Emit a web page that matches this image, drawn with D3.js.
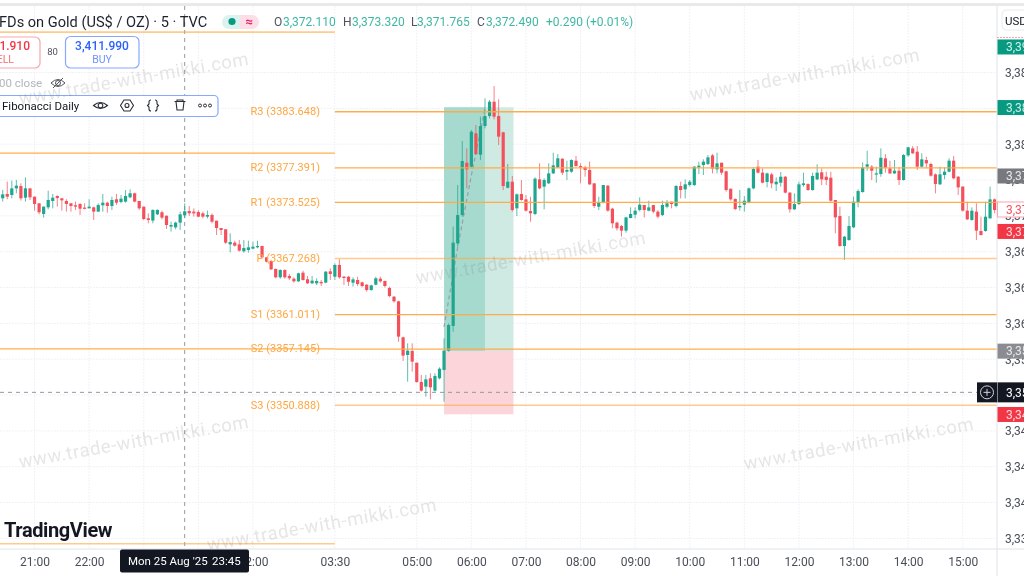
<!DOCTYPE html>
<html><head><meta charset="utf-8">
<style>html,body{margin:0;padding:0;background:#fff;overflow:hidden}svg{display:block;filter:blur(0.5px)}text{font-family:Roboto,sans-serif}</style>
<script src="https://cdn.jsdelivr.net/npm/d3@7/dist/d3.min.js"></script></head><body>
<svg id="c" width="1024" height="576"></svg>
<script>
const priceBase = 3300;
const opens = [
73.96,74.44,74.33,75.07,75.33,74.03,75.07,74.14,73.40,72.21,
72.95,73.66,74.22,73.96,73.66,73.40,73.18,73.33,72.92,72.84,
72.95,72.47,73.18,73.47,73.10,73.85,73.55,73.59,74.07,74.52,
73.66,73.03,71.73,71.47,72.17,72.40,72.02,70.80,70.72,71.24,
72.06,72.54,72.47,72.43,72.28,71.91,72.10,71.46,70.64,70.50,
68.82,69.01,68.82,68.04,68.19,68.34,68.49,68.64,67.37,66.96,
66.07,65.14,65.96,65.29,64.99,64.69,65.66,64.92,64.47,64.47,
64.62,64.55,65.81,65.21,66.52,65.21,65.21,64.54,64.84,64.58,
64.32,63.72,64.32,64.99,64.73,63.95,62.98,62.46,58.44,56.47,
56.92,55.61,53.46,52.94,53.87,52.49,53.87,54.80,56.95,59.71,
68.93,72.09,77.93,77.49,81.21,78.83,82.03,83.14,84.74,83.14,
81.32,75.14,75.81,72.84,74.44,73.84,72.54,72.21,76.07,75.26,
75.63,76.74,77.41,78.38,76.93,76.93,78.16,77.56,77.41,77.12,
75.63,73.02,73.47,75.37,72.80,71.24,70.87,70.35,71.76,72.13,
72.65,73.21,72.58,73.21,72.47,72.09,73.02,73.58,73.10,75.33,
74.96,75.44,75.44,77.41,77.67,77.79,78.75,77.19,77.93,76.97,
75.03,73.88,72.95,73.25,73.51,75.07,77.49,76.82,75.78,76.63,
75.52,75.70,76.37,74.59,72.73,73.32,75.44,75.55,74.88,76.07,
76.86,76.37,76.26,73.77,71.98,68.63,69.30,70.72,73.51,74.66,
77.49,77.49,76.63,76.67,78.42,77.30,76.74,77.04,76.00,78.75,
79.53,79.16,77.49,78.23,77.79,76.63,75.52,76.56,76.93,78.16,
76.37,75.26,72.58,71.54,72.47,70.31,70.31,71.72,73.84];
const closes = [
74.40,74.14,75.07,75.37,73.96,75.07,74.07,73.33,72.40,73.03,
73.77,74.03,73.99,73.73,73.33,73.10,73.03,72.80,72.80,73.03,
72.47,73.21,73.47,73.10,73.77,73.47,73.92,74.22,74.52,73.59,
72.84,71.65,71.54,72.66,72.66,71.80,70.98,70.98,71.24,72.17,
72.51,72.28,72.28,71.91,71.91,72.10,71.35,70.64,70.42,69.01,
69.08,68.67,68.12,68.41,68.49,68.56,68.64,67.37,66.89,66.03,
65.14,65.96,65.14,65.03,64.69,65.59,64.84,64.47,64.77,64.73,
64.47,65.77,65.51,66.52,65.14,65.06,64.65,64.91,64.39,64.17,
63.72,64.24,65.03,64.69,64.17,63.05,62.46,58.52,56.40,56.95,
55.73,53.46,52.49,53.75,52.86,54.13,54.94,56.95,59.82,69.01,
72.09,78.12,77.19,81.39,78.90,82.03,83.14,84.74,83.07,80.84,
75.33,75.81,72.65,74.40,73.77,72.58,72.28,76.15,75.07,76.00,
76.74,77.64,78.42,76.82,77.12,78.23,77.56,77.41,77.12,75.52,
73.10,73.47,75.44,72.58,71.17,70.61,70.35,71.83,72.21,72.58,
73.25,72.65,72.95,72.47,71.91,73.21,73.40,73.32,75.33,74.88,
75.52,75.81,77.49,77.60,78.05,78.53,77.27,77.86,76.82,74.88,
73.84,72.76,73.10,73.69,75.07,77.23,76.82,75.70,76.74,75.63,
75.81,76.37,74.59,72.73,73.32,75.52,75.63,74.88,76.45,76.82,
76.07,76.00,73.69,71.83,68.63,69.68,70.87,73.58,74.77,77.41,
77.75,77.04,76.74,78.49,77.38,76.74,77.04,76.00,78.79,79.65,
78.98,77.49,78.31,77.86,76.48,75.55,76.63,76.93,78.16,76.19,
75.18,72.58,71.61,72.58,70.35,69.86,71.91,73.84,72.65];
const highs = [
74.89,75.82,75.93,76.00,75.63,76.30,75.07,74.14,73.40,73.03,
74.81,74.44,74.29,73.96,73.85,73.40,73.59,73.40,73.40,73.85,
73.03,73.40,74.44,73.59,74.14,74.44,74.33,74.89,74.96,74.59,
73.66,73.03,72.28,72.73,72.73,72.58,72.02,71.35,71.35,72.47,
73.40,73.10,72.84,72.65,72.47,72.58,72.28,71.46,70.64,70.50,
70.05,69.23,69.31,69.31,69.23,69.12,69.23,68.64,67.37,66.96,
66.14,66.03,66.03,65.51,65.14,65.66,65.88,65.29,65.29,65.03,
64.84,65.85,66.14,66.70,67.15,65.29,65.29,65.14,65.21,64.65,
64.39,64.32,65.21,65.21,64.77,64.10,63.05,62.53,58.52,57.77,
57.77,55.61,54.24,54.24,54.42,54.42,55.09,58.33,60.00,70.79,
75.44,80.35,79.53,81.58,82.14,83.07,85.11,84.93,86.49,85.00,
81.39,77.79,76.45,74.51,76.00,74.33,74.14,76.30,77.86,76.19,
77.86,79.05,78.90,78.42,78.16,78.31,78.68,77.86,77.56,78.05,
75.63,74.14,75.44,75.44,72.91,71.35,70.98,71.91,72.95,72.95,
74.07,73.21,73.69,73.21,72.65,73.69,73.77,73.58,75.44,75.81,
76.07,76.00,77.56,78.05,78.31,78.79,78.90,79.05,77.93,77.04,
75.03,73.95,74.88,74.21,75.15,77.41,78.23,77.30,76.82,76.82,
76.30,76.89,76.45,74.66,74.51,75.81,76.82,75.63,76.82,77.75,
77.30,76.93,76.93,73.77,73.02,69.75,71.98,74.14,74.96,77.97,
79.27,77.67,77.49,79.53,78.90,78.16,78.23,77.41,78.90,79.72,
79.79,79.79,78.98,78.60,77.93,76.74,77.49,77.41,78.42,78.68,
76.45,75.33,73.58,72.95,73.40,71.91,73.58,75.26,73.95];
const lows = [
73.59,73.85,73.96,74.52,73.70,73.59,73.77,72.58,72.17,71.80,
72.73,72.84,73.03,72.58,72.47,72.47,72.66,72.10,72.73,72.84,
71.54,72.47,72.47,72.36,72.66,73.21,73.40,73.47,73.96,73.51,
72.66,71.54,71.17,71.17,72.10,71.61,70.54,70.24,70.50,70.42,
71.73,71.98,71.91,71.84,71.72,71.72,71.17,69.86,69.86,68.86,
67.93,68.56,68.00,67.89,67.89,68.26,68.38,67.26,66.78,65.96,
65.03,64.99,64.99,64.84,64.54,64.62,64.77,64.40,64.40,64.28,
64.17,64.47,64.84,64.84,64.99,64.28,64.17,64.10,64.17,64.02,
63.54,63.65,64.24,64.54,64.02,62.91,62.31,57.96,55.80,53.49,
54.61,53.38,52.38,51.82,51.52,52.38,53.75,51.26,56.84,59.07,
68.56,71.91,75.07,77.30,78.79,78.23,81.77,82.88,82.77,79.91,
74.88,75.07,72.47,71.98,73.69,72.47,71.35,72.09,74.96,72.73,
75.55,76.67,77.34,76.56,76.00,76.82,77.49,75.63,76.37,75.44,
72.88,72.65,73.40,72.47,70.61,70.35,69.68,70.12,71.72,71.72,
72.50,71.83,72.50,72.28,71.72,71.98,72.84,72.84,72.95,73.95,
73.95,75.26,75.33,76.67,76.56,77.67,76.74,76.74,76.56,74.70,
73.69,72.65,72.58,72.47,73.40,74.96,76.74,75.63,75.18,75.07,
74.77,75.26,74.51,72.36,72.65,73.21,75.26,74.81,74.81,76.00,
75.44,75.44,73.58,70.05,68.56,67.07,69.23,70.64,72.95,74.59,
77.04,76.00,75.70,76.37,76.82,76.67,76.67,75.44,75.93,78.60,
78.90,77.12,77.41,77.30,76.37,74.51,75.44,76.07,76.86,76.07,
74.33,72.47,71.54,71.46,69.30,69.82,70.23,71.70,72.28];

const pivotNames = ["R3","R2","R1","P","S1","S2","S3"];
const pivotPrices = [3383.648,3377.391,3373.525,3367.268,3361.011,3357.145,3350.888];
const pivotHeavy = [false,false,false,true,false,false,true];
const priorLevels = [3392.5,3379.0,3357.145,3335.4];
const priorHeavy = [true,false,false,true];
const priceTicks = [3388,3384,3380,3376,3372,3368,3364,3360,3356,3352,3348,3344,3340,3336];
const timeTickBars = [7,19,31,43,55,73,91,103,115,127,139,151,163,175,187,199,211];
const timeTickLabels = ["21:00","22:00","23:00","00:00","02:00","03:30","05:00","06:00","07:00","08:00","09:00","10:00","11:00","12:00","13:00","14:00","15:00"];
const positionBars = [97,106,112.25];
const positionPrices = {target:3384.12,entry:3356.92,stop:3349.85};
const tradePathBars = [97,100,103,106];
const tradePathPrices = [3359.6,3368.5,3376.5,3384.0];
const crosshairBar = 40, crosshairPrice = 3352.3;
const axisTags = [
 {p:3390.85,bg:"#089981",fg:"#cfeee8"},
 {p:3384.09,bg:"#089981",fg:"#cfeee8"},
 {p:3376.45,bg:"#77797f",fg:"#e8e8e8"},
 {p:3372.71,bg:"#fff",fg:"#f7525f",border:"#f7a6ad"},
 {p:3370.26,bg:"#f23645",fg:"#ffd9dc"},
 {p:3356.9,bg:"#8a8c92",fg:"#e8e8e8"},
 {p:3352.3,bg:"#131722",fg:"#fff",tall:true},
 {p:3349.83,bg:"#f23645",fg:"#ffd9dc"}];
const watermarks = [[20,105],[20,468],[208,551],[417,284],[691,101],[745,470]];
const watermarkText = "www.trade-with-mikki.com";
const ohlc = [["O","3,372.110",274,283],["H","3,373.320",343,352],["L","3,371.765",411,417],["C","3,372.490",477,486]];

const green="#1fa68f", red="#f4505c", orange="#ffa940", plotR=997, plotB=549;
const svg=d3.select("#c");
const x=d3.scaleLinear().domain([0,218]).range([2.7,994.6]);
const y=d3.scaleLinear().domain([3383.648,3350.888]).range([111.5,405]);
svg.append("rect").attr("width",1024).attr("height",576).attr("fill","#fff");

// grid
const grid=svg.append("g").attr("stroke","#f0f2f7").attr("stroke-width",1).attr("stroke-dasharray","2 1");
grid.selectAll(".h").data(priceTicks).join("line").attr("x1",0).attr("x2",plotR).attr("y1",d=>y(d)).attr("y2",d=>y(d));
grid.selectAll(".v").data(timeTickBars).join("line").attr("x1",d=>x(d)).attr("x2",d=>x(d)).attr("y1",6).attr("y2",plotB);

// position tool
const boxes=svg.append("g");
boxes.append("rect").attr("x",x(positionBars[0])).attr("width",x(positionBars[2])-x(positionBars[0])).attr("y",y(positionPrices.target)).attr("height",y(positionPrices.entry)-y(positionPrices.target)).attr("fill","#cfe9e3");
boxes.append("rect").attr("x",x(positionBars[0])).attr("width",x(positionBars[1])-x(positionBars[0])).attr("y",y(positionPrices.target)).attr("height",y(positionPrices.entry)-y(positionPrices.target)).attr("fill","#a6dace");
boxes.append("rect").attr("x",x(positionBars[0])).attr("width",x(positionBars[2])-x(positionBars[0])).attr("y",y(positionPrices.entry)).attr("height",y(positionPrices.stop)-y(positionPrices.entry)).attr("fill","#fbd5da");
boxes.append("path").attr("d",d3.line().x((d,i)=>x(tradePathBars[i])).y(d=>y(d))(tradePathPrices)).attr("fill","none").attr("stroke","#9a9ea6").attr("stroke-width",1.2).attr("stroke-dasharray","4 3");

// crosshair
const ch=svg.append("g").attr("stroke","#9598a1").attr("stroke-width",1).attr("stroke-dasharray","4 4");
ch.append("line").attr("x1",x(crosshairBar)).attr("x2",x(crosshairBar)).attr("y1",6).attr("y2",plotB);
ch.append("line").attr("x1",0).attr("x2",plotR).attr("y1",y(crosshairPrice)).attr("y2",y(crosshairPrice));

// candles
const bars=d3.range(opens.length);
const cg=svg.append("g");
const col=i=>closes[i]>=opens[i]?green:red;
cg.selectAll(".w").data(bars).join("line").attr("x1",x).attr("x2",x)
 .attr("y1",i=>y(priceBase+highs[i])).attr("y2",i=>y(priceBase+lows[i])).attr("stroke",col).attr("stroke-opacity",.72).attr("stroke-width",1);
cg.selectAll(".b").data(bars).join("rect").attr("x",i=>x(i)-1.6).attr("width",3.2)
 .attr("y",i=>y(priceBase+Math.max(opens[i],closes[i])))
 .attr("height",i=>Math.max(1.2,Math.abs(y(priceBase+opens[i])-y(priceBase+closes[i])))).attr("fill",col);

// pivot lines
const lv=svg.append("g").attr("stroke",orange);
lv.selectAll(".p").data(pivotPrices).join("line").attr("x1",x(73)).attr("x2",plotR).attr("y1",d=>y(d)+.25).attr("y2",d=>y(d)+.25)
 .attr("stroke-width",(d,i)=>pivotHeavy[i]?1.7:1.3).attr("stroke-opacity",(d,i)=>pivotHeavy[i]?.6:.95);
lv.selectAll(".q").data(priorLevels).join("line").attr("x1",0).attr("x2",x(73)).attr("y1",d=>y(d)).attr("y2",d=>y(d))
 .attr("stroke-width",(d,i)=>priorHeavy[i]?1.7:1.3).attr("stroke-opacity",(d,i)=>priorHeavy[i]?.6:.95);
svg.append("g").selectAll("text").data(pivotPrices).join("text").attr("x",320).attr("y",d=>y(d)+3.5).attr("text-anchor","end")
 .attr("font-size",11).attr("fill","#ffa640").text((d,i)=>`${pivotNames[i]} (${d.toFixed(3)})`);

// axes panels
svg.append("rect").attr("x",plotR).attr("y",6).attr("width",27).attr("height",570).attr("fill","#fff");
svg.append("rect").attr("x",0).attr("y",plotB).attr("width",plotR).attr("height",27).attr("fill","#fff");
svg.append("rect").attr("x",0).attr("y",3).attr("width",1024).attr("height",3).attr("fill","#e9e9ea");
svg.append("line").attr("x1",plotR).attr("x2",plotR).attr("y1",6).attr("y2",576).attr("stroke","#e0e3eb");
svg.append("line").attr("x1",0).attr("x2",1024).attr("y1",plotB).attr("y2",plotB).attr("stroke","#e0e3eb");

const ya=svg.append("g").attr("transform",`translate(${plotR},0)`)
 .call(d3.axisRight(y).tickValues(priceTicks).tickFormat(d3.format(",.3f")).tickSize(0).tickPadding(8));
ya.select(".domain").remove();
ya.selectAll("text").attr("font-size",12).attr("font-family","Roboto,sans-serif").attr("fill","#4a4e59");
const xa=svg.append("g").attr("transform",`translate(0,${plotB})`)
 .call(d3.axisBottom(x).tickValues(timeTickBars).tickFormat((d,i)=>timeTickLabels[i]).tickSize(0).tickPadding(8));
xa.select(".domain").remove();
xa.selectAll("text").attr("font-size",12).attr("font-family","Roboto,sans-serif").attr("fill","#4a4e59");

// price tags
const tg=svg.append("g").selectAll("g").data(axisTags).join("g");
tg.append("rect").attr("x",plotR+.5).attr("y",d=>y(d.p)-(d.tall?10:7.5)).attr("width",30).attr("height",d=>d.tall?20:15).attr("fill",d=>d.bg).attr("stroke",d=>d.border||"none");
tg.append("text").attr("x",1006).attr("y",d=>y(d.p)+4.2).attr("font-size",12).attr("fill",d=>d.fg).text(d=>d3.format(",.3f")(d.p));
svg.append("line").attr("x1",plotR).attr("x2",1024).attr("y1",37.5).attr("y2",37.5).attr("stroke","#f7a6ad").attr("stroke-dasharray","2 1");

// crosshair widgets
svg.append("rect").attr("x",plotR-20).attr("y",y(crosshairPrice)-10).attr("width",20).attr("height",20).attr("fill","#131722");
svg.append("circle").attr("cx",plotR-10).attr("cy",y(crosshairPrice)).attr("r",6.5).attr("fill","none").attr("stroke","#d1d4dc");
svg.append("path").attr("d",`M${plotR-13.5},${y(crosshairPrice)}h7M${plotR-10},${y(crosshairPrice)-3.5}v7`).attr("stroke","#d1d4dc");
svg.append("rect").attr("x",120).attr("y",549.5).attr("width",129).attr("height",23).attr("rx",2).attr("fill","#131722");
svg.append("text").attr("x",128).attr("y",565).attr("font-size",11.5).attr("fill","#fff").text("Mon 25 Aug '25");
svg.append("text").attr("x",212).attr("y",565).attr("font-size",11.5).attr("fill","#fff").text("23:45");

// USD
svg.append("rect").attr("x",1002).attr("y",10).attr("width",30).attr("height",20).attr("rx",4).attr("fill","#fff").attr("stroke","#e8eaef");
svg.append("text").attr("x",1005).attr("y",24.5).attr("font-size",11.5).attr("fill","#131722").text("USD");

// header
svg.append("text").attr("x",-1).attr("y",27).attr("font-size",14.6).attr("fill","#1e222d").text("FDs on Gold (US$ / OZ) · 5 · TVC");
svg.append("path").attr("d","M229,15h11v14h-11a7,7 0 0 1 0,-14z").attr("fill","#dcf2ee");
svg.append("path").attr("d","M240,15h12a7,7 0 0 1 0,14h-12z").attr("fill","#fcdfe6");
svg.append("circle").attr("cx",232).attr("cy",21.5).attr("r",3.6).attr("fill","#089981");
svg.append("text").attr("x",249).attr("y",26).attr("text-anchor","middle").attr("font-size",13).attr("font-weight",700).attr("fill","#e91e63").text("≈");
const oh=svg.append("g").selectAll("g").data(ohlc).join("g");
oh.append("text").attr("x",d=>d[2]).attr("y",26).attr("font-size",12).attr("fill","#50535e").text(d=>d[0]);
oh.append("text").attr("x",d=>d[3]).attr("y",26).attr("font-size",12).attr("fill","#3fb8a3").text(d=>d[1]);
svg.append("text").attr("x",546).attr("y",26).attr("font-size",12).attr("fill","#3fb8a3").text("+0.290 (+0.01%)");

// trade buttons
svg.append("rect").attr("x",-8).attr("y",37).attr("width",48).attr("height",31).attr("rx",5).attr("fill","#fff").attr("stroke","#f7a6ad").attr("stroke-width",1.2);
svg.append("text").attr("x",30).attr("y",50).attr("text-anchor","end").attr("font-size",12).attr("font-weight",500).attr("fill","#f23645").text("1.910");
svg.append("text").attr("x",14).attr("y",63).attr("text-anchor","end").attr("font-size",10.5).attr("fill","#f7707a").text("ELL");
svg.append("text").attr("x",52.5).attr("y",55).attr("text-anchor","middle").attr("font-size",9.5).attr("fill","#50535e").text("80");
svg.append("rect").attr("x",65.5).attr("y",36.5).attr("width",73.5).attr("height",31.5).attr("rx",5).attr("fill","#fff").attr("stroke","#86a8ff").attr("stroke-width",1.2);
svg.append("text").attr("x",102).attr("y",50).attr("text-anchor","middle").attr("font-size",12).attr("font-weight",500).attr("fill","#2962ff").text("3,411.990");
svg.append("text").attr("x",102).attr("y",63).attr("text-anchor","middle").attr("font-size",10.5).attr("fill","#6e93ff").text("BUY");
svg.append("text").attr("x",-1).attr("y",87).attr("font-size",11.5).attr("fill","#b2b5be").text("00 close");
const eo=svg.append("g").attr("transform","translate(58,83)").attr("fill","none").attr("stroke","#50535e").attr("stroke-width",1);
eo.append("path").attr("d","M-7,0Q0,-7 7,0Q0,7 -7,0z");eo.append("circle").attr("r",2.5);eo.append("path").attr("d","M-5,5L5,-5");

// indicator bar
svg.append("rect").attr("x",-4).attr("y",95.5).attr("width",222).attr("height",21).attr("rx",4).attr("fill","#fff").attr("stroke","#86a8ff").attr("stroke-width",1.2);
svg.append("text").attr("x",2).attr("y",110).attr("font-size",11.5).attr("fill","#131722").text("Fibonacci Daily");
const ic=svg.append("g").attr("fill","none").attr("stroke","#2a2e39").attr("stroke-width",1.1);
const e=ic.append("g").attr("transform","translate(100.5,105.5)");e.append("path").attr("d","M-7,0Q0,-6 7,0Q0,6 -7,0z");e.append("circle").attr("r",2.3);
const h=ic.append("g").attr("transform","translate(127,105.5)");h.append("path").attr("d","M-3,-5.5H3L6.5,0L3,5.5H-3L-6.5,0z");h.append("circle").attr("r",2);
ic.append("path").attr("d","M151,100q-2,0 -2,2v2l-1.5,1.5l1.5,1.5v2q0,2 2,2M155,100q2,0 2,2v2l1.5,1.5l-1.5,1.5v2q0,2 -2,2");
ic.append("path").attr("d","M174.5,101.5h11M177,101.5v-1.5h6v1.5M176,101.5l1,8.5h6l1,-8.5");
svg.append("g").attr("fill","none").attr("stroke","#2a2e39").selectAll("circle").data([200,205,210]).join("circle").attr("cx",d=>d).attr("cy",105.5).attr("r",1.5);

// logo
svg.append("text").attr("x",4).attr("y",537).attr("font-size",20).attr("font-weight",700).attr("font-family","Inter,Roboto,sans-serif").attr("fill","#131722").attr("letter-spacing",-.4).text("TradingView");

// watermarks
svg.append("g").selectAll("text").data(watermarks).join("text")
 .attr("transform",d=>`translate(${d[0]},${d[1]}) rotate(-10)`).attr("font-size",18.5).attr("letter-spacing",.65).attr("fill","rgba(130,130,130,.2)").text(watermarkText);
</script></body></html>
